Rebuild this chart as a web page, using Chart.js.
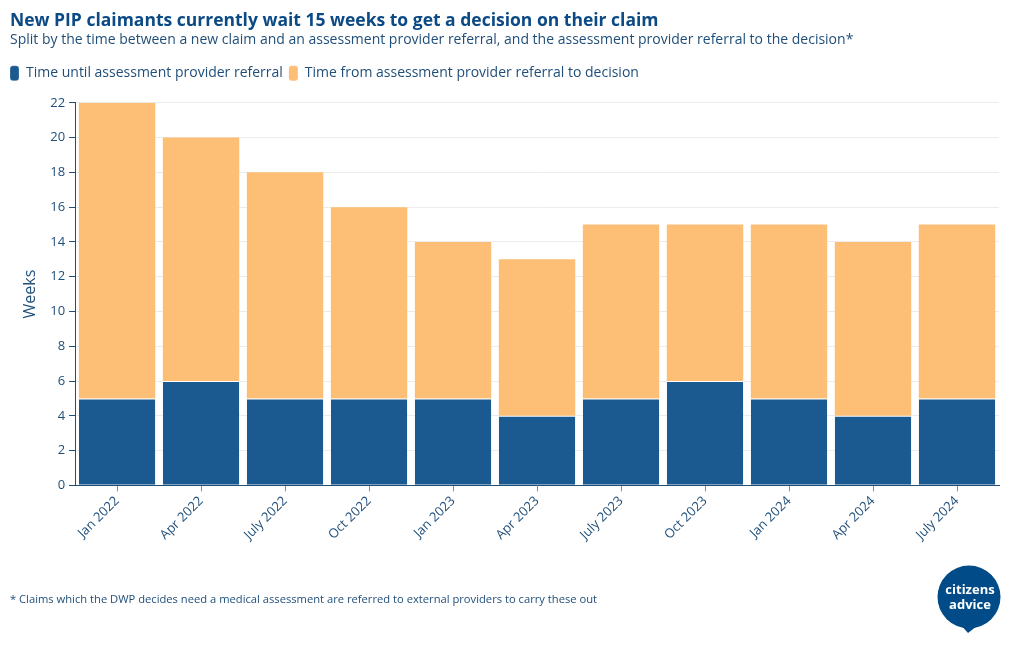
<!DOCTYPE html>
<html>
<head>
<meta charset="utf-8">
<script src="https://cdn.jsdelivr.net/npm/chart.js@4.4.1/dist/chart.umd.min.js"></script>
<style>
  html, body { margin: 0; padding: 0; background: #fff; }
  #wrap { width: 1020px; height: 650px; position: relative; }
</style>
</head>
<body>
<div id="wrap"><canvas id="chart"></canvas></div>
<script>
var quarters = ['Jan 2022', 'Apr 2022', 'July 2022', 'Oct 2022', 'Jan 2023', 'Apr 2023',
                'July 2023', 'Oct 2023', 'Jan 2024', 'Apr 2024', 'July 2024'];
var untilReferral = [5, 6, 5, 5, 5, 4, 5, 6, 5, 4, 5];
var referralToDecision = [17, 14, 13, 11, 9, 9, 10, 9, 10, 10, 10];

var navy = '#1b5a91',
    amber = '#fdbf75',
    textBlue = '#1f4e79',
    font = "'Open Sans', sans-serif";

Chart.defaults.font.family = font;
Chart.defaults.color = textBlue;

// more room under the legend, legend pulled to the left edge
var legendSpace = {
    id: 'legendSpace',
    beforeInit: function(chart) {
        var fit = chart.legend.fit;
        chart.legend.fit = function() {
            fit.call(this);
            this.height += 12;
        };
    },
    afterLayout: function(chart) {
        chart.legend.left -= 6;
    }
};

// footnote + logo drawn after the chart
var extras = {
    id: 'extras',
    afterDraw: function(chart) {
        var ctx = chart.ctx;
        ctx.save();
        ctx.fillStyle = textBlue;
        ctx.font = "11.2px " + font;
        ctx.textAlign = 'left';
        ctx.textBaseline = 'middle';
        ctx.fillText('* Claims which the DWP decides need a medical assessment are referred to external providers to carry these out', 10, 600);

        // citizens advice bubble
        var cx = 969, cy = 597, r = 31.5;
        ctx.fillStyle = '#004b88';
        ctx.beginPath();
        ctx.arc(cx, cy, r, 0, Math.PI * 2);
        ctx.fill();
        ctx.beginPath();
        ctx.moveTo(cx - 10, cy + 26);
        ctx.lineTo(cx - 1, cy + 36);
        ctx.lineTo(cx + 8, cy + 29);
        ctx.closePath();
        ctx.fill();
        ctx.fillStyle = '#fff';
        ctx.font = "bold 13px " + font;
        ctx.textAlign = 'center';
        ctx.fillText('citizens', cx + 1, cy - 7);
        ctx.fillText('advice', cx + 1, cy + 8);
        ctx.restore();
    }
};

var chart = new Chart(document.getElementById('chart'), {
    type: 'bar',
    data: {
        labels: quarters,
        datasets: [{
            label: 'Time until assessment provider referral',
            data: untilReferral,
            backgroundColor: navy,
            borderColor: '#fff',
            borderWidth: {top: 1, left: 0, right: 0, bottom: 0},
            borderSkipped: false,
            barPercentage: 0.91,
            categoryPercentage: 1
        }, {
            label: 'Time from assessment provider referral to decision',
            data: referralToDecision,
            backgroundColor: amber,
            borderWidth: 0,
            barPercentage: 0.91,
            categoryPercentage: 1
        }]
    },
    options: {
        responsive: true,
        maintainAspectRatio: false,
        animation: false,
        layout: {padding: {left: 10, right: 21, top: 11, bottom: 105}},
        plugins: {
            title: {
                display: true,
                text: 'New PIP claimants currently wait 15 weeks to get a decision on their claim',
                align: 'start',
                color: '#0b4a85',
                font: {size: 17.5, weight: 'bold'},
                padding: {top: 0, bottom: 0}
            },
            subtitle: {
                display: true,
                text: 'Split by the time between a new claim and an assessment provider referral, and the assessment provider referral to the decision*',
                align: 'start',
                color: textBlue,
                font: {size: 14},
                padding: {top: 0, bottom: 11}
            },
            legend: {
                align: 'start',
                labels: {
                    boxWidth: 9,
                    boxHeight: 15,
                    useBorderRadius: true,
                    borderRadius: 3,
                    font: {size: 14},
                    padding: 6,
                    color: textBlue
                }
            },
            tooltip: {enabled: false}
        },
        scales: {
            x: {
                stacked: true,
                grid: {drawOnChartArea: false, offset: false, tickColor: '#8c8c8c', tickLength: 6},
                border: {color: textBlue, width: 1},
                ticks: {maxRotation: 45, minRotation: 45, font: {size: 13}, color: textBlue, padding: 2}
            },
            y: {
                stacked: true,
                min: 0,
                max: 22,
                ticks: {stepSize: 2, font: {size: 13}, color: textBlue, padding: 4},
                grid: {color: '#ececec', tickColor: textBlue, tickLength: 6},
                border: {color: textBlue, width: 1},
                title: {display: true, text: 'Weeks', font: {size: 16}, color: textBlue, padding: {top: 11, bottom: 6}}
            }
        }
    },
    plugins: [legendSpace, extras]
});
</script>
</body>
</html>
